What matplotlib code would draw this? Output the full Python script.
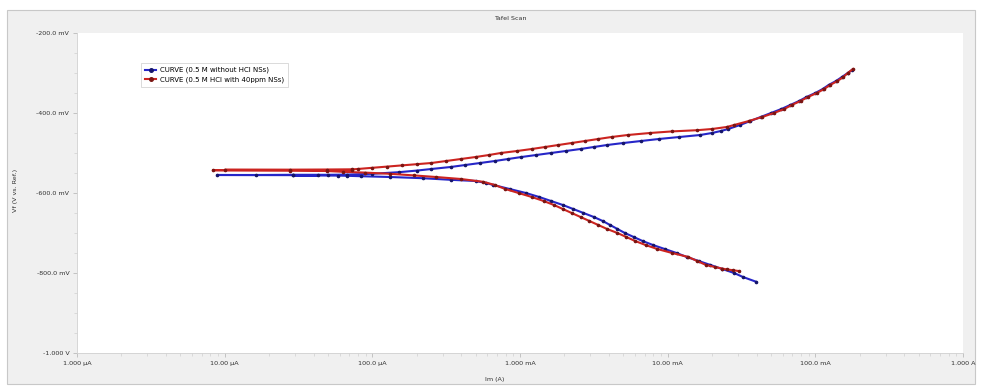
import numpy as np
import matplotlib
matplotlib.use("Agg")
import matplotlib.pyplot as plt
from matplotlib.patches import Rectangle
from matplotlib.ticker import FixedLocator, LogLocator, NullFormatter, MultipleLocator

# ---------------- data (potential in mV, log10 of |current| in A) ----------------
blue_cath_mv = [-822, -810, -800, -790, -780, -770, -760, -750, -740, -730, -720, -710,
                -700, -690, -680, -670, -660, -650, -640, -630, -620, -610, -600, -590,
                -580, -575, -570, -567, -563, -560, -558]
blue_cath_logi = [-1.40, -1.49, -1.55, -1.63, -1.71, -1.79, -1.87, -1.94, -2.02, -2.10, -2.17, -2.23,
                  -2.29, -2.34, -2.39, -2.44, -2.50, -2.57, -2.64, -2.71, -2.79, -2.87, -2.96, -3.07,
                  -3.18, -3.23, -3.30, -3.47, -3.66, -3.88, -4.08]
blue_ecorr_mv = [-557, -556.5, -556, -555.5, -555, -555, -554.5, -554.5, -554]
blue_ecorr_logi = [-4.17, -4.23, -4.54, -4.37, -5.05, -4.79, -4.54, -4.30, -4.17]
blue_anod_mv = [-552, -548, -544, -540, -535, -530, -525, -520, -515, -510, -505, -500,
                -495, -490, -485, -480, -475, -470, -465, -460, -455, -450, -445, -440,
                -430, -420, -410, -400, -390, -380, -370, -360, -350, -340, -330, -320,
                -310, -300, -292]
blue_anod_logi = [-4.00, -3.82, -3.70, -3.60, -3.47, -3.37, -3.27, -3.17, -3.08, -2.99, -2.89, -2.79,
                  -2.69, -2.59, -2.50, -2.41, -2.30, -2.18, -2.06, -1.92, -1.78, -1.70, -1.64, -1.59,
                  -1.51, -1.44, -1.37, -1.30, -1.23, -1.17, -1.11, -1.06, -1.00, -0.95, -0.91, -0.86,
                  -0.82, -0.78, -0.75]

red_cath_mv = [-795, -793, -791, -789, -785, -780, -770, -760, -750, -740, -730, -720, -710,
               -700, -690, -680, -670, -660, -650, -640, -630, -620, -610, -600, -590,
               -580, -572, -565, -560, -556, -552, -549, -547]
red_cath_logi = [-1.52, -1.56, -1.60, -1.63, -1.68, -1.74, -1.80, -1.86, -1.97, -2.07, -2.15, -2.22, -2.28,
                 -2.34, -2.41, -2.47, -2.53, -2.59, -2.65, -2.71, -2.77, -2.84, -2.92, -3.01, -3.10,
                 -3.17, -3.25, -3.40, -3.57, -3.72, -3.88, -4.05, -4.20]
red_ecorr_mv = [-545, -544, -543, -542.5, -542, -542, -541.5, -541]
red_ecorr_logi = [-4.31, -4.56, -5.08, -4.14, -5.00, -4.56, -4.31, -4.14]
red_anod_mv = [-540, -537, -534, -531, -528, -525, -520, -515, -510, -505, -500, -495,
               -490, -485, -480, -475, -470, -465, -460, -455, -450, -446, -443, -440,
               -435, -430, -420, -410, -400, -390, -380, -370, -360, -350, -340, -330,
               -320, -310, -300, -290]
red_anod_logi = [-4.10, -4.00, -3.90, -3.80, -3.70, -3.60, -3.50, -3.40, -3.30, -3.21, -3.13, -3.02,
                 -2.92, -2.83, -2.74, -2.65, -2.56, -2.47, -2.38, -2.27, -2.12, -1.97, -1.80, -1.70,
                 -1.60, -1.55, -1.45, -1.36, -1.28, -1.21, -1.16, -1.10, -1.05, -0.99, -0.94, -0.90,
                 -0.85, -0.81, -0.78, -0.745]

series_labels = ["CURVE (0.5 M without HCl NSs)", "CURVE (0.5 M HCl with 40ppm NSs)"]
x_tick_values = [1e-6, 1e-5, 1e-4, 1e-3, 1e-2, 1e-1, 1e0]
x_tick_labels = ["1.000 µA", "10.00 µA", "100.0 µA", "1.000 mA", "10.00 mA", "100.0 mA", "1.000 A"]
y_tick_values = [-1.0, -0.8, -0.6, -0.4, -0.2]
y_tick_labels = ["-1.000 V", "-800.0 mV", "-600.0 mV", "-400.0 mV", "-200.0 mV"]
title_text = "Tafel Scan"
x_label = "Im (A)"
y_label = "Vf (V vs. Ref.)"

# ---------------- figure ----------------
W, H = 981, 387
fig = plt.figure(figsize=(W / 100, H / 100), dpi=100)
fig.patch.set_facecolor("white")

def fx(px):
    return px / W

def fy(py):
    return 1 - py / H

panel = Rectangle((fx(7), fy(384)), fx(975) - fx(7), fy(10) - fy(384),
                  transform=fig.transFigure, facecolor="#f0f0f0", edgecolor="#c8c8c8",
                  linewidth=0.8, zorder=-10)
fig.patches.append(panel)

ax = fig.add_axes([fx(77), fy(353), fx(963) - fx(77), fy(33) - fy(353)], zorder=1)
ax.set_facecolor("white")

def build(c_mv, c_li, e_mv, e_li, a_mv, a_li):
    mv = np.array(c_mv + e_mv + a_mv, dtype=float)
    li = np.array(c_li + e_li + a_li, dtype=float)
    return 10 ** li, mv / 1000.0

bx, by = build(blue_cath_mv, blue_cath_logi, blue_ecorr_mv, blue_ecorr_logi,
               blue_anod_mv, blue_anod_logi)
rx, ry = build(red_cath_mv, red_cath_logi, red_ecorr_mv, red_ecorr_logi,
               red_anod_mv, red_anod_logi)

ax.plot(bx, by, color="#2626c8", lw=1.5, marker="o", ms=1.6,
        mfc="#15156a", mec="#15156a", label=series_labels[0], zorder=3)
ax.plot(rx, ry, color="#cc2420", lw=1.5, marker="o", ms=1.6,
        mfc="#7a1512", mec="#7a1512", label=series_labels[1], zorder=4)

ax.set_xscale("log")
ax.set_xlim(1e-6, 1.0)
ax.set_ylim(-1.0, -0.2)

ax.xaxis.set_major_locator(FixedLocator(x_tick_values))
ax.set_xticklabels(x_tick_labels)
ax.xaxis.set_minor_locator(LogLocator(base=10, subs=np.arange(2, 10)))
ax.xaxis.set_minor_formatter(NullFormatter())
ax.yaxis.set_major_locator(FixedLocator(y_tick_values))
ax.set_yticklabels(y_tick_labels)
ax.yaxis.set_minor_locator(MultipleLocator(0.05))

ax.tick_params(axis="both", which="major", labelsize=4.6, length=3, width=0.5,
               color="#b0b0b0", labelcolor="#303030", pad=2.5)
ax.tick_params(axis="both", which="minor", length=2, width=0.4, color="#c8c8c8")

for s in ["top", "right"]:
    ax.spines[s].set_visible(False)
for s in ["left", "bottom"]:
    ax.spines[s].set_color("#d0d0d0")
    ax.spines[s].set_linewidth(0.6)

fig.text(fx(510), fy(19), title_text, fontsize=4.6, color="#303030",
         ha="center", va="center")
fig.text(fx(495), fy(379), x_label, fontsize=4.6, color="#303030",
         ha="center", va="center")
fig.text(fx(15), fy(190), y_label, fontsize=4.6, color="#303030",
         ha="center", va="center", rotation=90)

leg = ax.legend(loc="upper left", bbox_to_anchor=(fx(138 - 77) / (fx(963) - fx(77)), (353 - 60) / 320),
                fontsize=5.0, frameon=True, fancybox=False, borderpad=0.5,
                handlelength=1.6, handletextpad=0.6, labelspacing=0.45, markerscale=1.6)
leg.get_frame().set_edgecolor("#c0c0c0")
leg.get_frame().set_linewidth(0.5)

fig.savefig("out.png", dpi=100, facecolor=fig.get_facecolor())
